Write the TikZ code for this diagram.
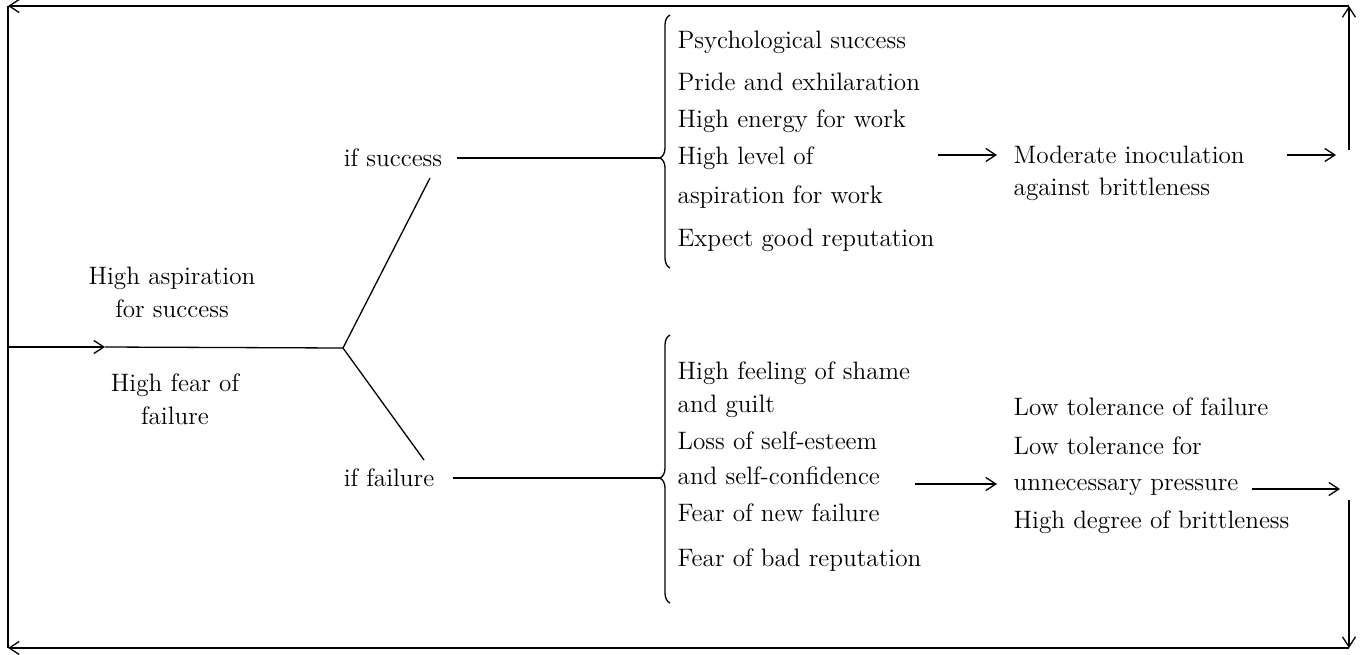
\documentclass[tikz,border=0pt]{standalone}
\usepackage{amsmath}
\usepackage{tikz}
\usetikzlibrary{arrows.meta,decorations.pathreplacing}

\begin{document}
\begin{tikzpicture}[x=0.5pt,y=-0.5pt,line width=0.65pt,>={Straight Barb[length=5pt,width=6.5pt]},
   every node/.style={font=\fontsize{12.6}{16.5}\selectfont,inner sep=0pt},
   item/.style={anchor=base west},
   lbrace/.style={decorate,decoration={brace,amplitude=5pt,aspect=#1}}]
   \useasboundingbox (0,0) rectangle (1361,654);
   % left side
   \node[align=center] (asp)  at (172,292) {High aspiration\\for success};
   \node[align=center] (fear) at (175,399) {High fear of\\failure};
   \node (ifs) at (393,158) {if success};
   \node (iff) at (389,478) {if failure};
   % success list
   \node[item] (s1) at (677,48)  {Psychological success};
   \node[item] (s2) at (677,90)  {Pride and exhilaration};
   \node[item] (s3) at (677,127) {High energy for work};
   \node[item] (s4) at (677,164) {High level of};
   \node[item] (s5) at (677,203) {aspiration for work};
   \node[item] (s6) at (677,246) {Expect good reputation};
   \node[item] (m1) at (1013,163) {Moderate inoculation};
   \node[item] (m2) at (1013,195) {against brittleness};
   % failure list
   \node[item] (f1) at (677,379) {High feeling of shame};
   \node[item] (f2) at (677,412) {and guilt};
   \node[item] (f3) at (677,449) {Loss of self-esteem};
   \node[item] (f4) at (677,484) {and self-confidence};
   \node[item] (f5) at (677,521) {Fear of new failure};
   \node[item] (f6) at (677,566) {Fear of bad reputation};
   \node[item] (t1) at (1013,415) {Low tolerance of failure};
   \node[item] (t2) at (1013,454) {Low tolerance for};
   \node[item] (t3) at (1013,490) {unnecessary pressure};
   \node[item] (t4) at (1013,528) {High degree of brittleness};
   % corners and junctions
   \coordinate (tl) at (8,6);
   \coordinate (tr) at (1349,6);
   \coordinate (bl) at (8,648);
   \coordinate (br) at (1349,648);
   \coordinate (in) at (8,347);
   \coordinate (mid) at (105,347);
   \coordinate (j) at (343,348);
   \coordinate (ju) at (430,178);
   \coordinate (jd) at (424,460);
   \coordinate (bs) at (660,158);
   \coordinate (bf) at (660,478);
   % braces
   \draw[lbrace=0.435] (670,268) -- (670,15);
   \draw[lbrace=0.466] (670,603) -- (670,335);
   % connectors
   \draw (tl) -- (bl);
   \draw[->] (in) -- (mid);
   \draw (mid) -- (j) -- (ju);
   \draw (j) -- (jd);
   \draw (ifs.east) ++(14,0) -- (bs);
   \draw (iff.east) ++(18,0) -- (bf);
   \draw[->] (938,155) -- (997,155);
   \draw[->] (1287,155) -- (1336,155);
   \draw[->] (915,484) -- (997,484);
   \draw[->] (1252,489) -- (1340,489);
   \draw[->] (1349,150) -- (tr);
   \draw[->] (tr) -- (tl);
   \draw[->] (1349,500) -- (br);
   \draw[->] (br) -- (bl);
\end{tikzpicture}
\end{document}
